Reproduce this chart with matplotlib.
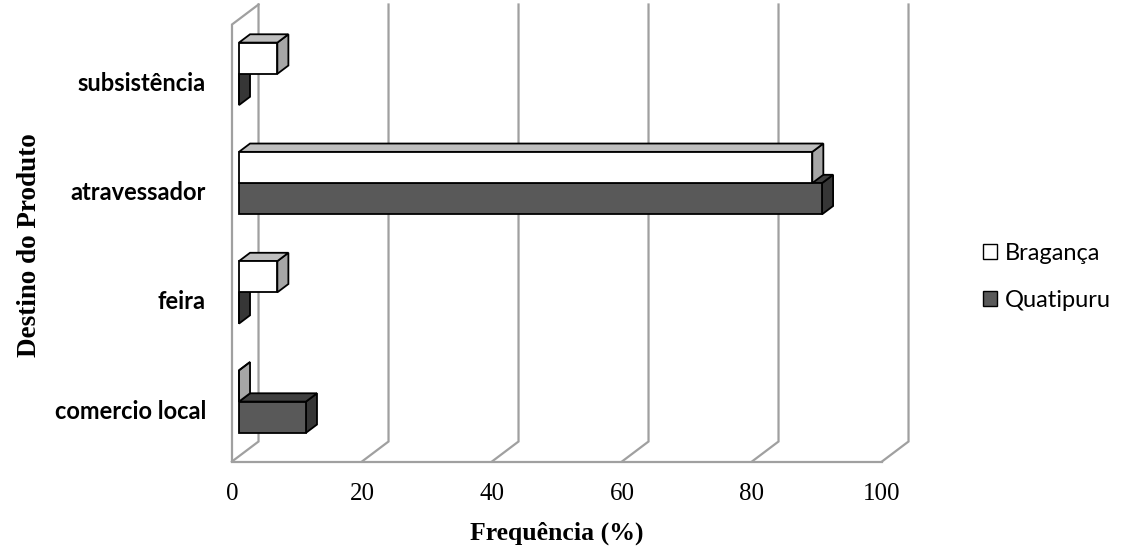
import numpy as np
import matplotlib.pyplot as plt
from matplotlib.patches import Polygon, Patch

# data
categories = ["comercio local", "feira", "atravessador", "subsistência"]
series_names = ["Bragança", "Quatipuru"]
braganca = [0.0, 5.9, 88.2, 5.9]
quatipuru = [10.3, 0.0, 89.7, 0.0]
x_ticks = [0, 20, 40, 60, 80, 100]

# pseudo-3d geometry (value units / row units)
DX = 4.08
DY = 0.183
D0, D1 = 0.264, 0.68
BAR_H = 0.286
GRID_COLOR = "#a0a0a0"

FRONT = {"Bragança": "#ffffff", "Quatipuru": "#595959"}
TOP = {"Bragança": "#bfbfbf", "Quatipuru": "#404040"}
SIDE = {"Bragança": "#a6a6a6", "Quatipuru": "#363636"}

SERIF = "Liberation Serif"
SANS = "Lato"


def proj(v, r, d):
    return (v + DX * d, r + DY * d)


def draw_bar(ax, v, r0, r1, name):
    front = [proj(0, r0, D0), proj(v, r0, D0), proj(v, r1, D0), proj(0, r1, D0)]
    top = [proj(0, r1, D0), proj(v, r1, D0), proj(v, r1, D1), proj(0, r1, D1)]
    side = [proj(v, r0, D0), proj(v, r1, D0), proj(v, r1, D1), proj(v, r0, D1)]
    for pts, col in [(side, SIDE[name]), (top, TOP[name]), (front, FRONT[name])]:
        ax.add_patch(Polygon(pts, closed=True, facecolor=col, edgecolor="black",
                             linewidth=1.3, joinstyle="miter", zorder=3))


fig = plt.figure(figsize=(11.25, 5.51), dpi=100)
ax = fig.add_axes([0, 0, 1, 1])
ax.set_xlim(-232 / 6.5, (1125 - 232) / 6.5)
ax.set_ylim((461.5 - 551) / 109.25, 461.5 / 109.25)
ax.axis("off")

n = len(categories)

# walls and gridlines
for t in x_ticks:
    xs, ys = zip(proj(t, 0, 0), proj(t, 0, 1), proj(t, n, 1))
    ax.plot(xs, ys, color=GRID_COLOR, lw=1.6, zorder=1, solid_joinstyle="miter")
xs, ys = zip(proj(x_ticks[0], 0, 0), proj(x_ticks[-1], 0, 0))
ax.plot(xs, ys, color=GRID_COLOR, lw=1.6, zorder=1)
xs, ys = zip(proj(0, 0, 0), proj(0, n, 0), proj(0, n, 1))
ax.plot(xs, ys, color=GRID_COLOR, lw=1.6, zorder=1, solid_joinstyle="miter")

# bars
for i in range(n):
    c = i + 0.5
    draw_bar(ax, quatipuru[i], c - BAR_H, c, "Quatipuru")
    draw_bar(ax, braganca[i], c, c + BAR_H, "Bragança")
    ax.text(-4.0, c - 0.04, categories[i], ha="right", va="center",
            fontsize=17, fontweight="bold", family=SANS)

# tick labels and axis titles
for t in x_ticks:
    ax.text(t, -0.297, str(t), ha="center", va="center", fontsize=18, family=SERIF)
ax.text(50, -0.654, "Frequência (%)", ha="center", va="center",
        fontsize=18.5, fontweight="bold", family=SERIF)
ax.text(-31.1, 1.98, "Destino do Produto", ha="center", va="center",
        rotation=90, fontsize=19.5, fontweight="bold", family=SERIF)

handles = [Patch(facecolor=FRONT[s], edgecolor="black", linewidth=1.0) for s in series_names]
fig.legend(handles, series_names, loc="center left", bbox_to_anchor=(962 / 1125, 1 - 277 / 551),
           frameon=False, prop={"family": SANS, "size": 17}, handlelength=0.59,
           handleheight=0.59, handletextpad=0.34, labelspacing=1.12)

fig.savefig("out.png", dpi=100)
